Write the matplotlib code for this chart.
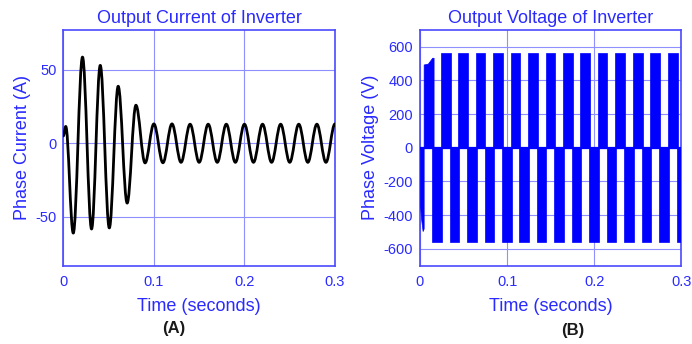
import numpy as np
import matplotlib
matplotlib.use("Agg")
import matplotlib.pyplot as plt
from matplotlib.path import Path
from matplotlib.patches import PathPatch

plt.rcParams['font.family'] = ['Liberation Sans', 'DejaVu Sans']
plt.rcParams['axes.unicode_minus'] = False

# ---------------- Data ----------------
# (A) Phase current: extrema of the oscillation (time s, current A)
cur_t = [0.0, 0.0027, 0.0110, 0.0212, 0.0312, 0.0408, 0.0508, 0.0606, 0.0705,
         0.0802, 0.0903, 0.1000, 0.1100, 0.1200, 0.1300, 0.1400, 0.1500, 0.1600,
         0.1700, 0.1800, 0.1900, 0.2000, 0.2100, 0.2200, 0.2300, 0.2400, 0.2500,
         0.2600, 0.2700, 0.2800, 0.2900, 0.3000]
cur_v = [5.0, 11.5, -61.0, 58.6, -58.2, 53.0, -57.5, 38.8, -40.6,
         25.9, -13.3, 13.2, -13.2, 13.2, -12.9, 13.0, -12.9, 13.0,
         -12.9, 13.0, -12.9, 13.0, -12.9, 13.0, -12.9, 13.0, -12.9,
         13.0, -12.9, 13.0, -12.9, 13.2]

# (B) Phase voltage: PWM blocks (start s, end s, level V)
pos_start = [0.0243, 0.0441, 0.0641, 0.0842, 0.1042, 0.1242, 0.1441, 0.1642,
             0.1842, 0.2042, 0.2241, 0.2442, 0.2643, 0.2843]
pos_end = [0.0353, 0.0552, 0.0752, 0.0953, 0.1153, 0.1352, 0.1553, 0.1753,
           0.1953, 0.2152, 0.2353, 0.2555, 0.2757, 0.2957]
pos_level = [561, 562, 562, 562, 563, 562, 562, 562, 562, 563, 562, 562, 562, 561]

neg_start = [0.0141, 0.0341, 0.0541, 0.0741, 0.0942, 0.1142, 0.1343, 0.1543,
             0.1743, 0.1943, 0.2143, 0.2346, 0.2549, 0.2747, 0.2947]
neg_end = [0.0255, 0.0451, 0.0652, 0.0852, 0.1052, 0.1252, 0.1452, 0.1652,
           0.1852, 0.2050, 0.2250, 0.2457, 0.2656, 0.2855, 0.3000]
neg_level = [-558, -562, -562, -562, -562, -562, -562, -562, -562, -562, -562,
             -562, -562, -562, -562]

# start-up transient of the voltage
start_pos_t = [0.0042, 0.0090, 0.0140, 0.0156]
start_pos_v = [495, 500, 535, 535]
start_neg_t = [0.0, 0.0012, 0.0030, 0.0042]
start_neg_v = [-340, -420, -495, -480]

time_span = [0.0, 0.3]
zero_level = [0.0, 0.0]

x_ticks = [0, 0.1, 0.2, 0.3]
x_ticklabels = ['0', '0.1', '0.2', '0.3']
cur_yticks = [-50, 0, 50]
volt_yticks = [-600, -400, -200, 0, 200, 400, 600]

# ---------------- Style ----------------
TXT = '#2a2aff'
SPINE = '#4a4aff'
GRID = '#8f8fff'
WAVE = '#0000ff'

W, H = 692, 344
fig = plt.figure(figsize=(W / 100, H / 100), dpi=100)

def px_axes(l, r, t, b):
    return fig.add_axes([l / W, 1 - b / H, (r - l) / W, (b - t) / H])

axA = px_axes(63.3, 335.0, 30.0, 265.5)
axB = px_axes(420.0, 681.3, 30.0, 265.5)

def style(ax, yticks):
    ax.set_xlim(0, 0.3)
    ax.set_xticks(x_ticks)
    ax.set_xticklabels(x_ticklabels)
    ax.set_yticks(yticks)
    ax.grid(True, color=GRID, lw=0.8)
    ax.set_axisbelow(True)
    for s in ax.spines.values():
        s.set_color(SPINE)
        s.set_linewidth(1.2)
    ax.tick_params(length=0, labelsize=10.5, labelcolor=TXT)
    ax.tick_params(axis='x', pad=7)
    ax.tick_params(axis='y', pad=5)

# ---- (A) current: smooth curve through the extrema (cubic Bezier path) ----
style(axA, cur_yticks)
axA.set_ylim(-83, 77)
k = 0.3642
verts = [(cur_t[0], cur_v[0])]
codes = [Path.MOVETO]
for i in range(1, len(cur_t)):
    t0, v0, t1, v1 = cur_t[i - 1], cur_v[i - 1], cur_t[i], cur_v[i]
    dt = t1 - t0
    verts += [(t0 + k * dt, v0), (t1 - k * dt, v1), (t1, v1)]
    codes += [Path.CURVE4] * 3
axA.add_patch(PathPatch(Path(verts, codes), fill=False, edgecolor='black',
                        lw=2.0, joinstyle='round', capstyle='round',
                        transform=axA.transData, zorder=3))
axA.set_title('Output Current of Inverter', color=TXT, fontsize=13, pad=5)
axA.set_xlabel('Time (seconds)', color=TXT, fontsize=13, labelpad=6)
axA.set_ylabel('Phase Current (A)', color=TXT, fontsize=13, labelpad=3)

# ---- (B) voltage ----
style(axB, volt_yticks)
axB.set_ylim(-700, 700)
axB.plot(time_span, zero_level, color=WAVE, lw=1.6, zorder=3)
axB.bar(pos_start, pos_level, width=np.array(pos_end) - np.array(pos_start),
        align='edge', color=WAVE, edgecolor=WAVE, lw=0.5, zorder=3)
axB.bar(neg_start, neg_level, width=np.array(neg_end) - np.array(neg_start),
        align='edge', color=WAVE, edgecolor=WAVE, lw=0.5, zorder=3)
axB.fill_between(start_pos_t, 0, start_pos_v, color=WAVE, lw=0.5, zorder=3)
axB.fill_between(start_neg_t, 0, start_neg_v, color=WAVE, lw=0.5, zorder=3)
axB.set_title('Output Voltage of Inverter', color=TXT, fontsize=13, pad=5)
axB.set_xlabel('Time (seconds)', color=TXT, fontsize=13, labelpad=6)
axB.set_ylabel('Phase Voltage (V)', color=TXT, fontsize=13, labelpad=3)

fig.text(173.8 / W, 1 - 329 / H, '(A)', ha='center', va='center',
         fontsize=12, fontweight='bold', color='#1a1a1a')
fig.text(572.7 / W, 1 - 330 / H, '(B)', ha='center', va='center',
         fontsize=12, fontweight='bold', color='#1a1a1a')

fig.savefig('out.png', dpi=100)
